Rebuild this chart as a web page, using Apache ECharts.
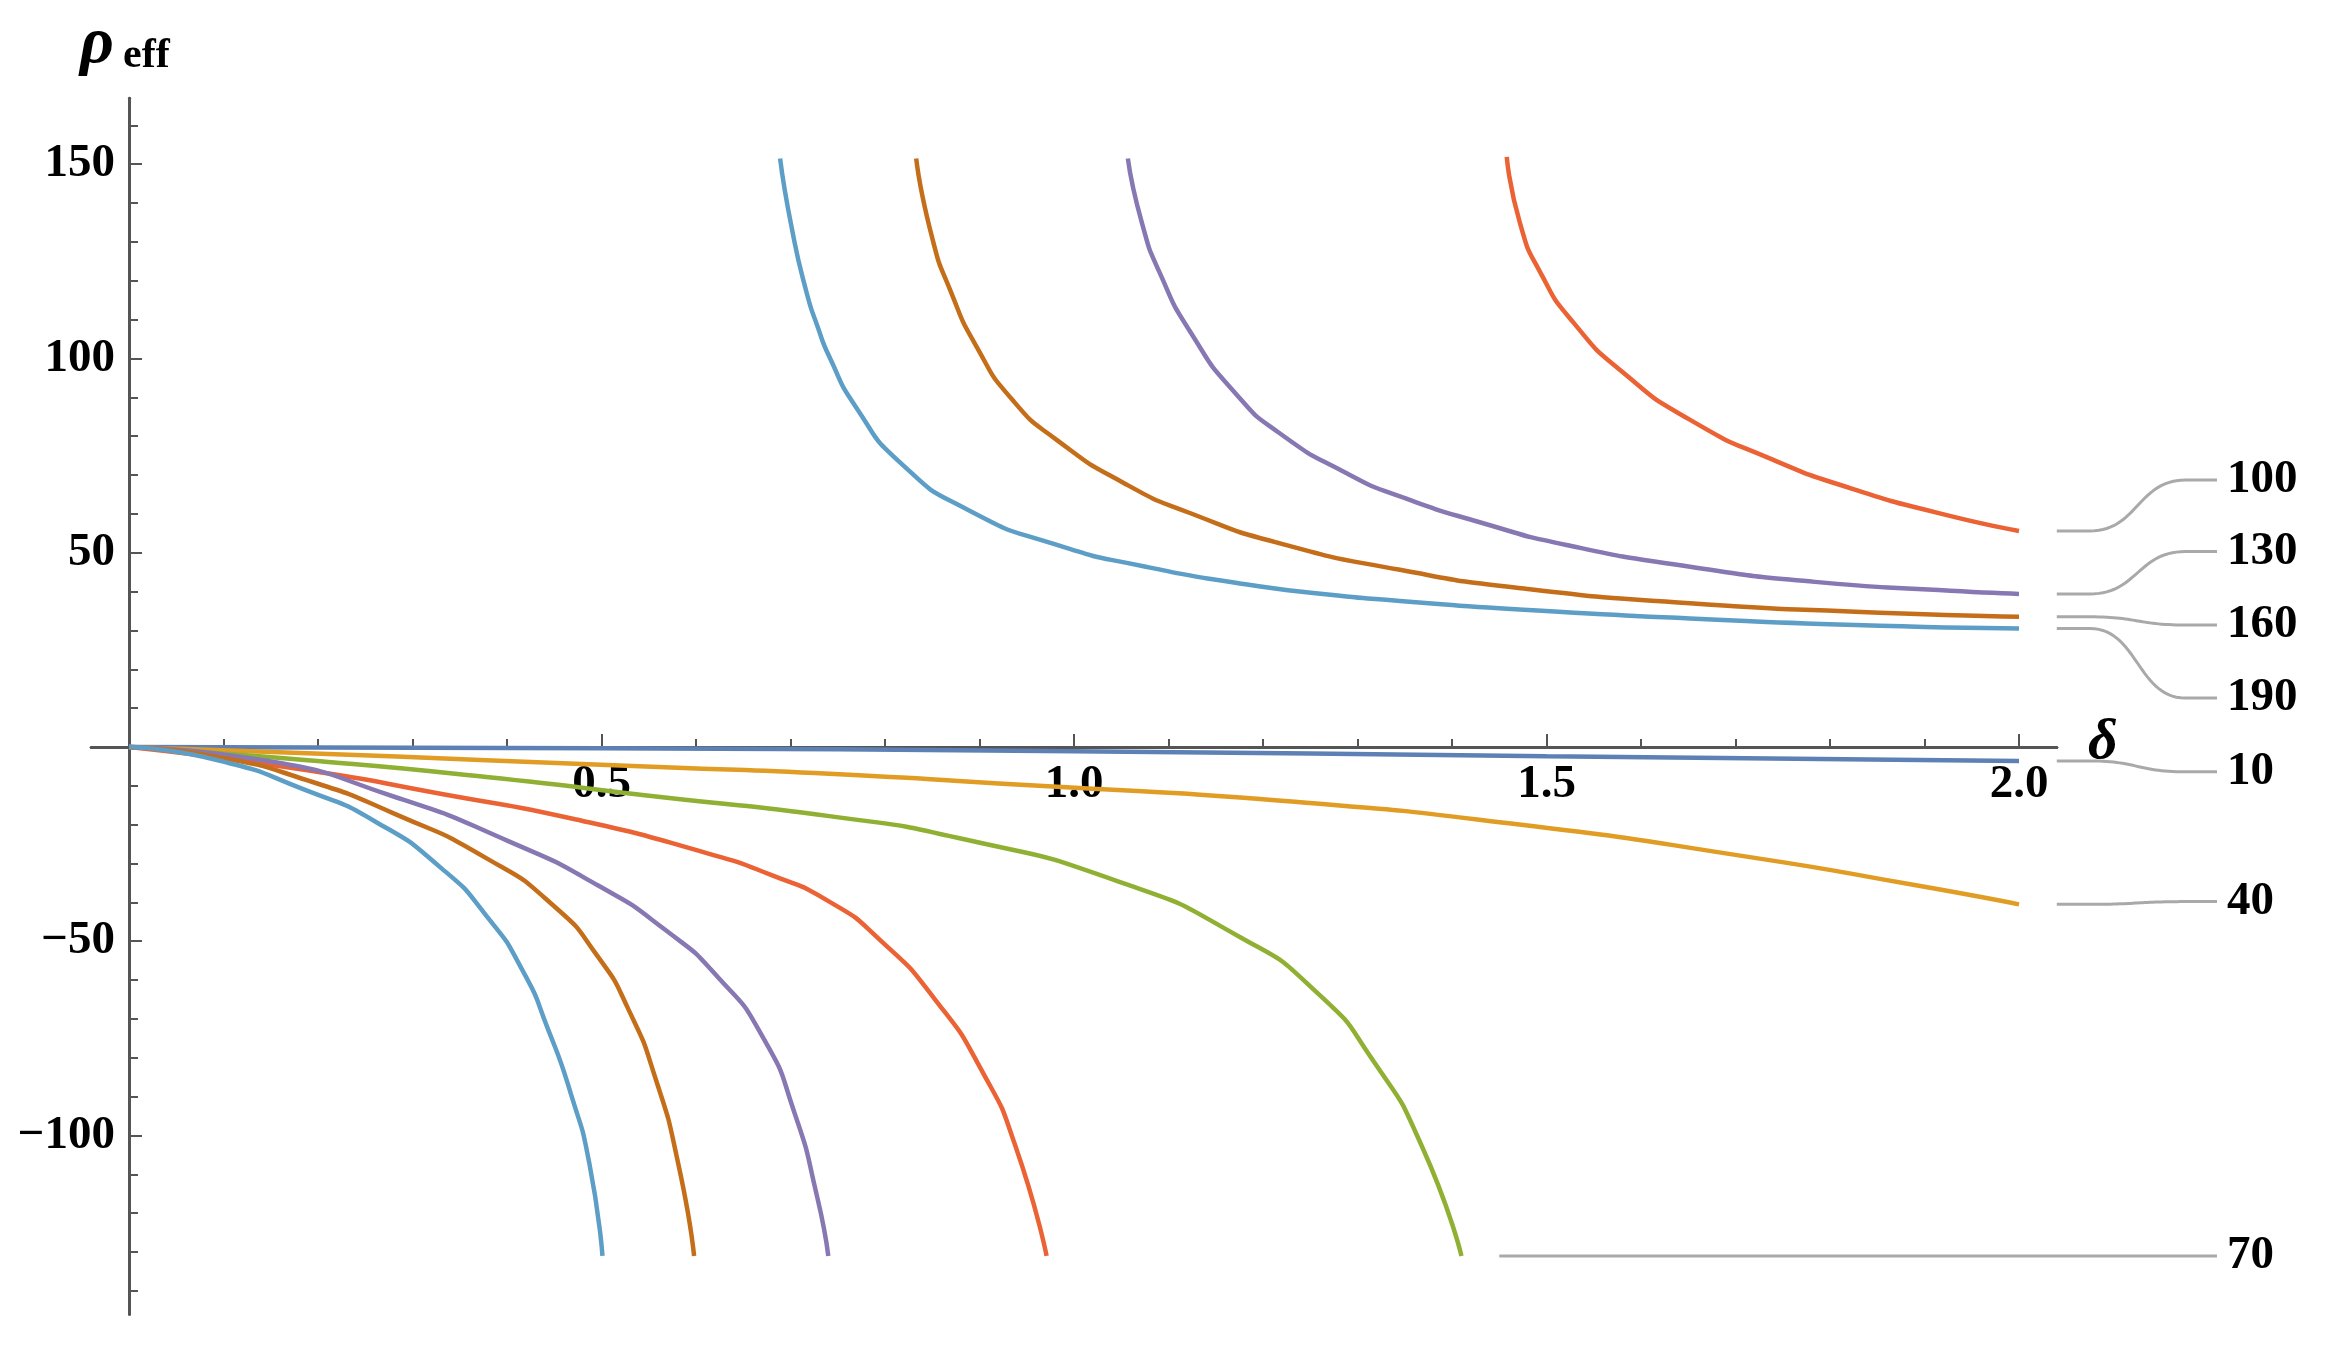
<!DOCTYPE html>
<html><head><meta charset="utf-8">
<script src="https://cdn.jsdelivr.net/npm/echarts@6/dist/echarts.min.js"></script>
<style>html,body{margin:0;padding:0;background:#fff}#c{width:2331px;height:1345px}</style>
</head><body><div id="c"></div>
<script>
// ---- tick values ----
const xTicksMajor = [0.5, 1.0, 1.5, 2.0];
const xTicksMinor = [0.1,0.2,0.3,0.4,0.6,0.7,0.8,0.9,1.1,1.2,1.3,1.4,1.6,1.7,1.8,1.9];
const yTicksMajor = [-100, -50, 50, 100, 150];
const yTicksMinor = [-140,-130,-120,-110,-90,-80,-70,-60,-40,-30,-20,-10,10,20,30,40,60,70,80,90,110,120,130,140,160];

// ---- curves (delta, rho_eff) ----
const rho10 = [[0,0],[0.5,-0.3],[1.0,-1.1],[1.5,-2.4],[2.0,-3.6]];
const rho40 = [[0,0],[0.189,-1.6],[0.378,-3.4],[0.567,-5.2],[0.741,-6.9],[0.963,-10.0],[1.216,-13.8],[1.469,-19.9],[1.722,-28.6],[1.891,-35.6],[2.0,-40.5]];
const rho70 = [[0,0],[0.189,-3.4],[0.378,-7.7],[0.567,-13.0],[0.741,-17.8],[0.879,-23.5],[1.048,-34.7],[1.174,-48.7],[1.258,-63.4],[1.317,-80.9],[1.368,-102.7],[1.410,-131]];
const rho100Lower = [[0,0],[0.189,-6.0],[0.331,-12.1],[0.472,-18.6],[0.614,-27.5],[0.680,-33.0],[0.741,-39.8],[0.794,-49.5],[0.853,-65.0],[0.904,-84.0],[0.938,-102.7],[0.971,-131]];
const rho100Upper = [[1.458,151.9],[1.472,134.8],[1.494,121.9],[1.529,109.1],[1.582,96.2],[1.652,84.2],[1.740,73.9],[1.827,66.2],[1.915,60.2],[2.0,55.6]];
const rho130Lower = [[0,0],[0.142,-3.4],[0.283,-13.0],[0.402,-24.3],[0.496,-35.6],[0.567,-47.0],[0.623,-59.2],[0.671,-74.8],[0.704,-94.0],[0.728,-115.6],[0.740,-131]];
const rho130Upper = [[1.057,151.5],[1.072,134.8],[1.091,121.9],[1.124,106.5],[1.171,91.0],[1.218,80.7],[1.289,70.4],[1.345,64.5],[1.433,57.6],[1.521,52.0],[1.652,46.4],[1.784,42.5],[1.915,40.4],[2.0,39.4]];
const rho160Lower = [[0,0],[0.094,-2.6],[0.189,-8.6],[0.283,-17.4],[0.378,-28.6],[0.449,-40.8],[0.496,-53.9],[0.529,-67.8],[0.557,-85.2],[0.581,-107.0],[0.598,-131]];
const rho160Upper = [[0.833,151.5],[0.850,131.0],[0.869,117.6],[0.897,103.0],[0.935,89.3],[0.982,79.0],[1.053,67.9],[1.124,60.1],[1.218,52.4],[1.345,45.6],[1.476,40.8],[1.652,37.0],[1.827,34.8],[2.0,33.5]];
const rho190Lower = [[0,0],[0.094,-3.4],[0.189,-11.3],[0.260,-19.1],[0.331,-31.3],[0.378,-43.4],[0.416,-57.3],[0.444,-73.0],[0.468,-89.6],[0.487,-107.0],[0.501,-131]];
const rho190Upper = [[0.689,151.5],[0.701,134.0],[0.717,117.0],[0.729,108.0],[0.741,100.5],[0.769,87.6],[0.817,73.0],[0.888,61.0],[0.982,52.0],[1.076,46.4],[1.171,42.3],[1.266,39.3],[1.345,37.6],[1.476,35.3],[1.652,33.1],[1.827,31.4],[2.0,30.5]];

// ---- callout labels ----
const calloutText = ['100','130','160','190','10','40','70'];
const calloutLabelY = [68.7, 50.3, 31.4, 12.6, -6.4, -39.8, -131];

const C = {b:'#5E81B5', o:'#E19C24', g:'#8FB032', r:'#EB6235', p:'#8778B3', br:'#C56E1A', lb:'#5D9EC7'};
const curveList = [
  ['10', rho10, C.b], ['40', rho40, C.o], ['70', rho70, C.g],
  ['100a', rho100Lower, C.r], ['100b', rho100Upper, C.r],
  ['130a', rho130Lower, C.p], ['130b', rho130Upper, C.p],
  ['160a', rho160Lower, C.br], ['160b', rho160Upper, C.br],
  ['190a', rho190Lower, C.lb], ['190b', rho190Upper, C.lb]
];
const calloutSources = [rho100Upper, rho130Upper, rho160Upper, rho190Upper, rho10, rho40, rho70];

const FONT = '"Liberation Serif","Times New Roman",serif';
const AX = '#555';
const xMin = -0.04, xMax = 2.04, yMin = -146, yMax = 167;
const G = {left:91.2, top:98.2, width:1965.6, height:1216};
// tick labels are laid out from the grid edge; shift them next to the zero lines
const zeroFromBottom = G.height * (0 - yMin) / (yMax - yMin);
const zeroFromLeft = G.width * (0 - xMin) / (xMax - xMin);

const chart = echarts.init(document.getElementById('c'), null, {renderer:'canvas'});

function xAxisDef(major) {
  return {
    type:'value', min:xMin, max:xMax, position:'bottom',
    axisLine:{show:true, onZero:true, lineStyle:{color:AX, width:3}},
    axisTick:{show:true, inside:true, length: major?13:8, customValues: major?xTicksMajor:xTicksMinor, lineStyle:{color:AX, width:2}},
    axisLabel:{show:major, customValues:xTicksMajor, formatter:v=>Number(v).toFixed(1), fontFamily:FONT, fontWeight:'bold', fontSize:47, color:'#000', margin:14 - zeroFromBottom},
    splitLine:{show:false}
  };
}
function yAxisDef(major) {
  return {
    type:'value', min:yMin, max:yMax, position:'left',
    axisLine:{show:true, onZero:true, lineStyle:{color:AX, width:3}},
    axisTick:{show:true, inside:true, length: major?13:9, customValues: major?yTicksMajor:yTicksMinor, lineStyle:{color:AX, width:2}},
    axisLabel:{show:major, customValues:yTicksMajor, formatter:v=>String(v).replace('-','\u2212'), fontFamily:FONT, fontWeight:'bold', fontSize:47, color:'#000', margin:14 - zeroFromLeft},
    splitLine:{show:false}
  };
}

chart.setOption({
  animation:false,
  backgroundColor:'#fff',
  grid:{left:G.left, top:G.top, width:G.width, height:G.height, containLabel:false, outerBoundsMode:'none'},
  xAxis:[xAxisDef(true), xAxisDef(false)],
  yAxis:[yAxisDef(true), yAxisDef(false)],
  series: curveList.map(([n, d, col]) => ({
    name:n, type:'line', data:d, xAxisIndex:0, yAxisIndex:0,
    showSymbol:false, symbol:'none', smooth:0.6,
    lineStyle:{color:col, width:4.5}, silent:true
  }))
});

// callouts and axis titles
const els = [];
const px = (x,y) => chart.convertToPixel({gridIndex:0}, [x,y]);
calloutSources.forEach((src, i) => {
  const last = src[src.length-1];
  const p0 = px(last[0] + 0.04, last[1]);
  const p1 = px(2.075, last[1]);
  const p2 = px(2.176, calloutLabelY[i]);
  const p3 = px(2.2095, calloutLabelY[i]);
  const pts = [[p0[0], p0[1]]];
  const N = 30;
  for (let k=0; k<=N; k++) {
    const t = k/N;
    const mx = (p1[0]+p2[0])/2;
    const u = 1-t;
    const x = u*u*u*p1[0] + 3*u*u*t*mx + 3*u*t*t*mx + t*t*t*p2[0];
    const y = u*u*u*p1[1] + 3*u*u*t*p1[1] + 3*u*t*t*p2[1] + t*t*t*p2[1];
    pts.push([x,y]);
  }
  pts.push([p3[0], p3[1]]);
  els.push({type:'polyline', shape:{points:pts}, style:{stroke:'#a9a9a9', lineWidth:3, fill:null}, silent:true});
  els.push({type:'text', x:p3[0]+10, y:p3[1], style:{text:calloutText[i], font:'bold 47px '+FONT, fill:'#000', textAlign:'left', verticalAlign:'middle'}, silent:true});
});
const o = px(0,0);
els.push({type:'text', x:80, y:45, style:{text:'\u03C1', font:'bold italic 66px '+FONT, fill:'#000', textAlign:'left', verticalAlign:'middle'}});
els.push({type:'text', x:123, y:56, style:{text:'eff', font:'bold 42px '+FONT, fill:'#000', textAlign:'left', verticalAlign:'middle'}});
els.push({type:'text', x:2088, y:o[1]-4, style:{text:'\u03B4', font:'bold italic 58px '+FONT, fill:'#000', textAlign:'left', verticalAlign:'middle'}});
chart.setOption({graphic:{elements:els}});
</script>
</body></html>
